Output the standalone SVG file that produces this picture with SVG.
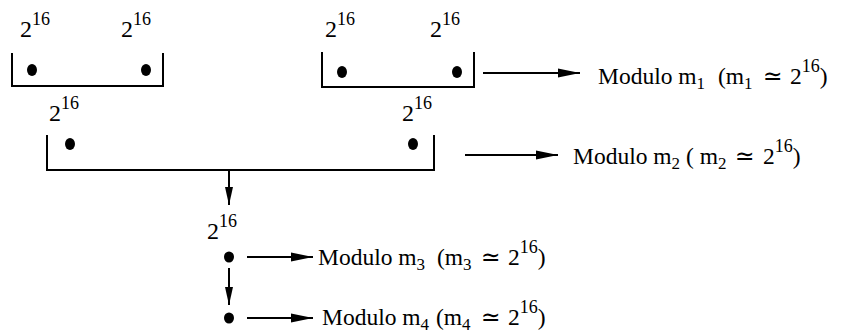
<svg xmlns="http://www.w3.org/2000/svg" width="846" height="335" viewBox="0 0 846 335">
<style>
text{font-family:"Liberation Serif","DejaVu Serif",serif;fill:#000;font-size:24px}
.t{font-size:23.5px}
.sup{font-size:18px}
.sub{font-size:17px}
.br{fill:none;stroke:#000;stroke-width:2}
.ln{fill:none;stroke:#000;stroke-width:2}
</style>
<defs>
<marker id="ah" markerUnits="userSpaceOnUse" markerWidth="24" markerHeight="12" refX="22" refY="6" orient="auto">
<path d="M0,1.5 L22,6 L0,10.5 Z" fill="#000"/>
</marker>
<marker id="av" markerUnits="userSpaceOnUse" markerWidth="20" markerHeight="10" refX="18" refY="5" orient="auto">
<path d="M0,1 L18,5 L0,9 Z" fill="#000"/>
</marker>
</defs>
<g id="bracket1">
<path class="br" d="M12,53 V86 H163 V53"/>
<ellipse cx="32" cy="70" rx="5" ry="6"/>
<ellipse cx="146" cy="70" rx="5" ry="6"/>
<text x="20" y="37">2<tspan class="sup" dy="-12">16</tspan></text>
<text x="121" y="37">2<tspan class="sup" dy="-12">16</tspan></text>
</g>
<g id="bracket2">
<path class="br" d="M322,52 V87 H474 V52"/>
<ellipse cx="342" cy="72" rx="5" ry="6"/>
<ellipse cx="457" cy="72" rx="5" ry="6"/>
<text x="325" y="37">2<tspan class="sup" dy="-12">16</tspan></text>
<text x="430" y="37">2<tspan class="sup" dy="-12">16</tspan></text>
</g>
<g id="bracket3">
<path class="br" d="M47,135 V170 H434 V135"/>
<ellipse cx="70" cy="144" rx="5" ry="6"/>
<ellipse cx="413" cy="144" rx="5" ry="6"/>
<text x="49" y="121">2<tspan class="sup" dy="-12">16</tspan></text>
<text x="402" y="121">2<tspan class="sup" dy="-12">16</tspan></text>
</g>
<g id="node3">
<ellipse cx="229" cy="257" rx="5" ry="5.5"/>
<text x="207" y="239">2<tspan class="sup" dy="-12">16</tspan></text>
</g>
<g id="node4">
<ellipse cx="229" cy="318" rx="5" ry="5.5"/>
</g>
<g id="label1"><text class="t" x="598" y="84">Modulo m<tspan class="sub" dy="5">1</tspan><tspan x="718" dy="-5">(m</tspan><tspan class="sub" dy="5">1</tspan><tspan x="763" dy="-5">≃</tspan><tspan x="790">2</tspan><tspan class="sup" dy="-12">16</tspan><tspan dy="12">)</tspan></text></g>
<g id="label2"><text class="t" x="573" y="164">Modulo m<tspan class="sub" dy="5">2</tspan><tspan x="686" dy="-5">( m</tspan><tspan class="sub" dy="5">2</tspan><tspan x="735" dy="-5">≃</tspan><tspan x="763">2</tspan><tspan class="sup" dy="-12">16</tspan><tspan dy="12">)</tspan></text></g>
<g id="label3"><text class="t" x="318" y="265">Modulo m<tspan class="sub" dy="5">3</tspan><tspan x="437" dy="-5">(m</tspan><tspan class="sub" dy="5">3</tspan><tspan x="481" dy="-5">≃</tspan><tspan x="508">2</tspan><tspan class="sup" dy="-12">16</tspan><tspan dy="12">)</tspan></text></g>
<g id="label4"><text class="t" x="322" y="325">Modulo m<tspan class="sub" dy="5">4</tspan><tspan x="436" dy="-5">(m</tspan><tspan class="sub" dy="5">4</tspan><tspan x="481" dy="-5">≃</tspan><tspan x="508">2</tspan><tspan class="sup" dy="-12">16</tspan><tspan dy="12">)</tspan></text></g>
<g id="connectors">
<line class="ln" x1="483" y1="73" x2="580" y2="73" marker-end="url(#ah)"/>
<line class="ln" x1="465" y1="155" x2="558" y2="155" marker-end="url(#ah)"/>
<line class="ln" x1="229" y1="170" x2="229" y2="205" marker-end="url(#av)"/>
<line class="ln" x1="247" y1="257" x2="313" y2="257" marker-end="url(#ah)"/>
<line class="ln" x1="229" y1="268" x2="229" y2="305" marker-end="url(#av)"/>
<line class="ln" x1="247" y1="318" x2="313" y2="318" marker-end="url(#ah)"/>
</g>
</svg>
